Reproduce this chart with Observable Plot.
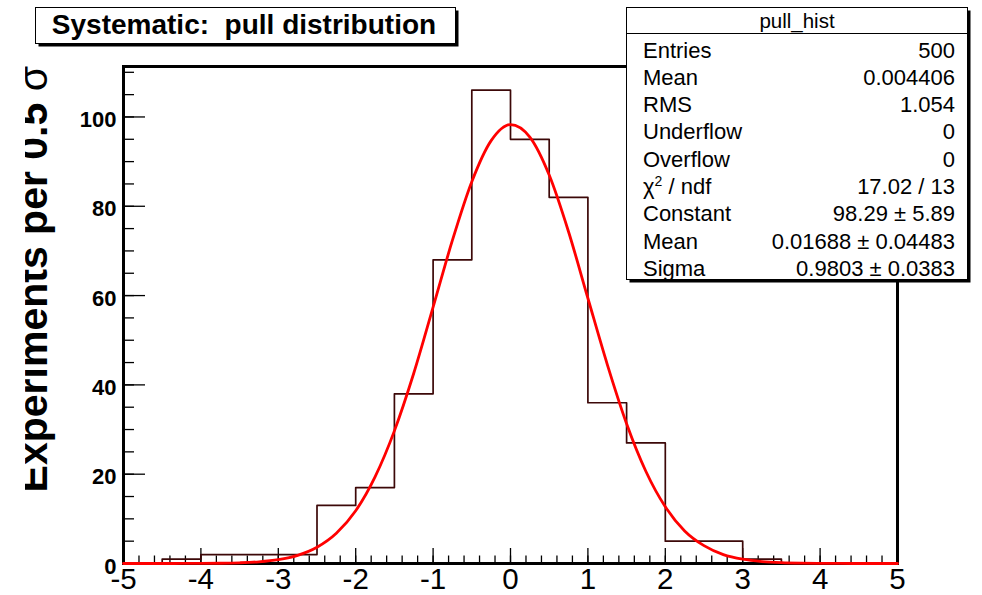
<!DOCTYPE html>
<html><head><meta charset="utf-8">
<script src="https://cdn.jsdelivr.net/npm/d3@7"></script>
<script src="https://cdn.jsdelivr.net/npm/@observablehq/plot@0.6"></script>
<style>
body{margin:0;background:#fff;}
#wrap{width:982px;height:595px;overflow:hidden;}
</style>
</head><body><div id="wrap"></div>
<script>
// ---- data ----
const binEdges = [-5,-4.5,-4,-3.5,-3,-2.5,-2,-1.5,-1,-0.5,0,0.5,1,1.5,2,2.5,3,3.5,4,4.5,5];
const binCounts = [0,1,2,2,2,13,17,38,68,106,95,82,36,27,5,5,1,0,0,0];
const fitX = [-5,-4.75,-4.5,-4.25,-4,-3.75,-3.5,-3.25,-3,-2.75,-2.5,-2.25,-2,-1.75,-1.5,-1.25,-1,-0.75,-0.5,-0.25,0,0.25,0.5,0.75,1,1.25,1.5,1.75,2,2.25,2.5,2.75,3,3.25,3.5,3.75,4,4.25,4.5,4.75,5];
const fitY = [0,0,0,0.01,0.02,0.06,0.16,0.38,0.86,1.83,3.64,6.77,11.8,19.4,29.7,42.6,57.4,72.4,85.5,94.7,98.3,95.5,87.0,74.3,59.4,44.6,31.3,20.6,12.7,7.3,4.0,2.0,0.96,0.43,0.18,0.07,0.03,0.01,0,0,0];
const xTickLabels = [-5,-4,-3,-2,-1,0,1,2,3,4,5];
const yTickLabels = [0,20,40,60,80,100];
const titleText = "Systematic:  pull distribution";
const yLabelText = "Experiments per 0.5 ";
const yLabelSymbol = "\u03c3";
const statsName = "pull_hist";
const statLabels = ["Entries","Mean","RMS","Underflow","Overflow","CHI2","Constant","Mean","Sigma"];
const statValues = ["500","0.004406","1.054","0","0","17.02 / 13","98.29 \u00b1 5.89","0.01688 \u00b1 0.04483","0.9803 \u00b1 0.0383"];

// ---- layout ----
const W = 982, H = 595, mL = 123, mR = 85, mT = 66, mB = 32;
const fw = W - mL - mR, fh = H - mT - mB;
const yMax = 111.3;

const histPts = binCounts.map((c, i) => ({x: binEdges[i], y: c}));
histPts.push({x: binEdges[binEdges.length - 1], y: 0});
const fitPts = fitX.map((x, i) => ({x, y: fitY[i]}));

const xMinor = d3.range(-5, 5.0001, 0.2).map(v => +v.toFixed(2));
const yMinor = d3.range(0, 110.001, 5);

const font = "'Liberation Sans', Arial, Helvetica, sans-serif";

const chart = Plot.plot({
  width: W, height: H,
  marginLeft: mL, marginRight: mR, marginTop: mT, marginBottom: mB,
  style: {fontFamily: font, background: "white", color: "black", overflow: "visible"},
  x: {domain: [-5, 5]},
  y: {domain: [0, yMax]},
  marks: [
    Plot.tickX(xMinor, {x: d => d, insetTop: fh - 7.5, stroke: "black", strokeWidth: 1.3}),
    Plot.tickX(xTickLabels, {x: d => d, insetTop: fh - 15, stroke: "black", strokeWidth: 1.3}),
    Plot.tickY(yMinor, {y: d => d, insetRight: fw - 11, stroke: "black", strokeWidth: 1.3}),
    Plot.tickY(yTickLabels, {y: d => d, insetRight: fw - 22, stroke: "black", strokeWidth: 1.3}),
    Plot.frame({stroke: "black", strokeWidth: 3}),
    Plot.line(histPts, {x: "x", y: "y", curve: "step-after", stroke: "#3c0808", strokeWidth: 1.7}),
    Plot.line(fitPts, {x: "x", y: "y", curve: "monotone-x", stroke: "#ff0000", strokeWidth: 2.8}),
    Plot.axisX({ticks: xTickLabels, tickSize: 0, tickPadding: 5, fontSize: 29.5, tickFormat: d => String(d), label: null}),
    Plot.axisY({ticks: yTickLabels, tickSize: 0, tickPadding: 7, fontSize: 22, fontWeight: "bold", dy: 3, tickFormat: d => String(d), label: null})
  ]
});
document.getElementById("wrap").appendChild(chart);

const svg = d3.select(chart);

// y-axis title (clipped at left like the original)
const defs = svg.append("defs");
defs.append("clipPath").attr("id", "ylabclip")
  .append("rect").attr("x", 25).attr("y", 0).attr("width", 90).attr("height", H);
const ylg = svg.append("g").attr("clip-path", "url(#ylabclip)");
const ylt = ylg.append("text")
  .attr("transform", "translate(47,66) rotate(-90)")
  .attr("text-anchor", "end")
  .attr("font-family", font)
  .attr("font-weight", "bold")
  .attr("font-size", 41)
  .attr("fill", "black")
  .style("white-space", "pre");
ylt.append("tspan").text(yLabelText);
ylt.append("tspan").attr("font-weight", "normal").text(yLabelSymbol);

// title box
const tg = svg.append("g");
tg.append("rect").attr("x", 38.5).attr("y", 10.5).attr("width", 420).attr("height", 36).attr("fill", "black");
tg.append("rect").attr("x", 35.5).attr("y", 7.5).attr("width", 420).attr("height", 36).attr("fill", "white").attr("stroke", "black").attr("stroke-width", 1);
tg.append("text").attr("x", 244).attr("y", 34).attr("text-anchor", "middle")
  .attr("font-family", font).attr("font-weight", "bold").attr("font-size", 28)
  .style("white-space", "pre").text(titleText);

// stats box
const sg = svg.append("g").attr("font-family", font).attr("fill", "black");
sg.append("rect").attr("x", 629.5).attr("y", 10.5).attr("width", 341).attr("height", 272).attr("fill", "black");
sg.append("rect").attr("x", 626.5).attr("y", 7.5).attr("width", 341).attr("height", 272).attr("fill", "white").attr("stroke", "black").attr("stroke-width", 1);
sg.append("line").attr("x1", 626.5).attr("x2", 967.5).attr("y1", 33.5).attr("y2", 33.5).attr("stroke", "black").attr("stroke-width", 1);
sg.append("text").attr("x", 797).attr("y", 27.5).attr("text-anchor", "middle").attr("font-size", 20.5).text(statsName);
statLabels.forEach((lab, i) => {
  const yb = 57.5 + i * 27.3;
  const t = sg.append("text").attr("x", 643).attr("y", yb).attr("text-anchor", "start").attr("font-size", 22);
  if (lab === "CHI2") {
    t.append("tspan").text("\u03c7");
    t.append("tspan").attr("dy", -8).attr("font-size", 14).text("2");
    t.append("tspan").attr("dy", 8).text(" / ndf");
  } else {
    t.text(lab);
  }
  sg.append("text").attr("x", 955).attr("y", yb).attr("text-anchor", "end").attr("font-size", 22).text(statValues[i]);
});
</script>
</body></html>
